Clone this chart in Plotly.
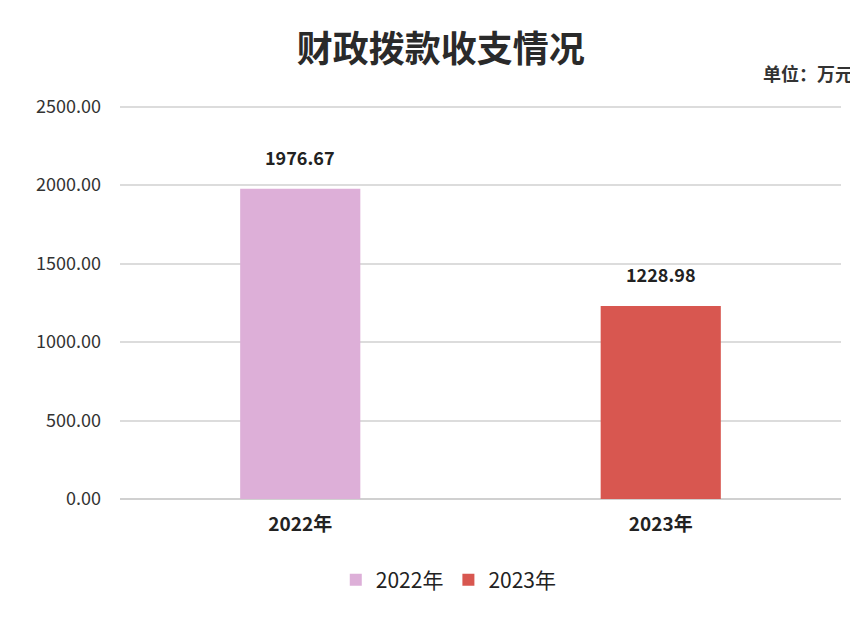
import plotly.graph_objects as go

# data
years = ['2022年', '2023年']
amounts = [1976.67, 1228.98]
bar_colors = ['#DDAFD8', '#D85750']
y_ticks = [0, 500, 1000, 1500, 2000, 2500]

font_cjk = 'Noto Sans CJK SC'

fig = go.Figure()
for year, amount, color in zip(years, amounts, bar_colors):
    fig.add_trace(go.Bar(
        x=[year],
        y=[amount],
        name=year,
        width=1 / 3,
        marker=dict(color=color, line=dict(width=0))
    ))
    # value label above each bar
    fig.add_annotation(
        x=year, y=amount,
        text=f'<b>{amount:.2f}</b>',
        showarrow=False,
        yanchor='bottom',
        yshift=17,
        font=dict(size=18, color='#222222', family=font_cjk)
    )

fig.add_annotation(
    text='<b>单位：万元</b>',
    xref='paper', yref='paper',
    x=1.019, xanchor='right',
    y=1.08, yanchor='middle',
    showarrow=False,
    font=dict(size=18, color='#333333', family=font_cjk)
)

# the page body adds an 8px offset, so the figure is sized to the visible area
fig.update_layout(
    width=850,
    height=615,
    margin=dict(l=112, r=17, t=97, b=124, autoexpand=False),
    paper_bgcolor='white',
    plot_bgcolor='white',
    barmode='overlay',
    font=dict(family=font_cjk, color='#333333'),
    title=dict(
        text='<b>财政拨款收支情况</b>',
        x=0.509, xanchor='center',
        y=0.932, yanchor='middle',
        font=dict(size=36, color='#2a2a2a', family=font_cjk)
    ),
    showlegend=True,
    legend=dict(
        orientation='h',
        x=0.456, xanchor='center',
        y=-0.206, yanchor='middle',
        font=dict(size=21, color='#222222'),
        itemwidth=30,
        traceorder='normal'
    )
)

fig.update_xaxes(
    showgrid=False,
    showline=False,
    ticks='',
    automargin=False,
    tickfont=dict(size=19, color='#222222'),
    tickprefix='<b>', ticksuffix='</b>',
    ticklabelstandoff=12
)

fig.update_yaxes(
    range=[0, 2510],
    tickvals=y_ticks,
    tickformat='.2f',
    showgrid=True,
    gridcolor='#dcdcdc',
    gridwidth=1.5,
    zeroline=True,
    zerolinecolor='#d0d0d0',
    zerolinewidth=1.5,
    automargin=False,
    tickfont=dict(size=18, color='#333333'),
    ticklabelstandoff=18
)

fig.write_html('out.html')
